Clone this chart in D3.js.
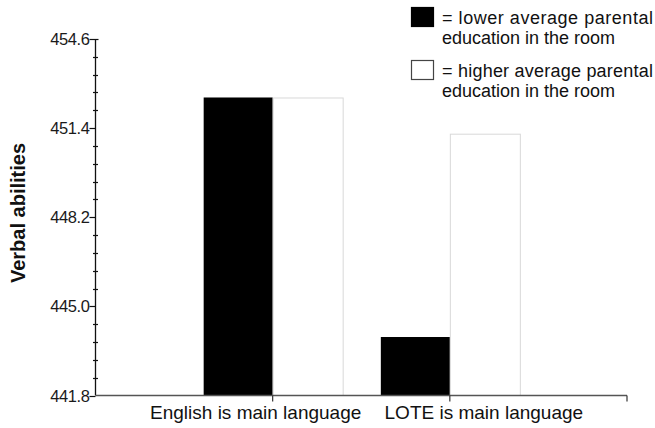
<!DOCTYPE html>
<html>
<head>
<meta charset="utf-8">
<script src="https://cdn.jsdelivr.net/npm/d3@7"></script>
<style>
  html, body { margin: 0; padding: 0; background: #fff; }
  svg { display: block; font-family: "Liberation Sans", Arial, sans-serif; }
</style>
</head>
<body>
<svg id="chart" width="655" height="428"></svg>
<script>
// ---- data ----
const categories = ["English is main language", "LOTE is main language"];
const seriesNames = ["= lower average parental", "= higher average parental"];
const seriesNames2 = ["education in the room", "education in the room"];
const lowerEdu = [452.5, 443.9];
const higherEdu = [452.5, 451.2];
const yTicks = [441.8, 445.0, 448.2, 451.4, 454.6];
const yTitle = "Verbal abilities";

const svg = d3.select("#chart");
const axisX = 95.5, axisBottom = 395.5, axisTop = 39;

const y = d3.scaleLinear().domain([441.8, 454.6]).range([axisBottom, axisTop]);
const x = d3.scaleLinear().domain([0, categories.length + 1]).range([axisX, 627]);
const barW = 70;

// bars
const g = svg.append("g");
categories.forEach((c, i) => {
  const cx = x(i + 1);
  g.append("rect")
    .attr("x", cx - barW + 1).attr("width", barW - 1)
    .attr("y", y(lowerEdu[i])).attr("height", axisBottom - y(lowerEdu[i]))
    .attr("fill", "#000");
  g.append("rect")
    .attr("x", cx + 0.5).attr("width", barW)
    .attr("y", y(higherEdu[i]) + 0.5).attr("height", axisBottom - y(higherEdu[i]) - 0.5)
    .attr("fill", "#fff").attr("stroke", "#d8d8d8").attr("stroke-width", 1);
});

// y axis
const yAxis = svg.append("g").attr("transform", `translate(${axisX},0)`);
yAxis.append("line").attr("x1", 0).attr("x2", 0).attr("y1", y(454.6)).attr("y2", y(441.8))
  .attr("stroke", "#111").attr("stroke-width", 1.3);
// minor ticks
const minor = d3.range(0, 21).map(k => 441.8 + k * 0.64).filter((v, k) => k % 5 !== 0);
yAxis.selectAll(".minor").data(minor).join("line")
  .attr("x1", -2.5).attr("x2", 2.5)
  .attr("y1", d => Math.round(y(d)) + 0.5).attr("y2", d => Math.round(y(d)) + 0.5)
  .attr("stroke", "#111").attr("stroke-width", 1.2);
yAxis.selectAll(".major").data(yTicks).join("line")
  .attr("x1", -6).attr("x2", d => d === 454.6 ? 3 : 0)
  .attr("y1", d => Math.round(y(d)) + 0.5).attr("y2", d => Math.round(y(d)) + 0.5)
  .attr("stroke", "#111").attr("stroke-width", 1.2);
yAxis.selectAll(".lab").data(yTicks).join("text")
  .attr("x", -6).attr("y", d => y(d) + 6)
  .attr("text-anchor", "end").attr("font-size", 16.5).attr("fill", "#1a1a1a")
  .attr("letter-spacing", -0.4)
  .text(d => d.toFixed(1));

// x axis
const xAxis = svg.append("g");
xAxis.append("line").attr("x1", axisX).attr("x2", x(categories.length + 1))
  .attr("y1", axisBottom).attr("y2", axisBottom)
  .attr("stroke", "#555").attr("stroke-width", 1.3);
xAxis.selectAll(".xt").data(d3.range(1, categories.length + 2)).join("line")
  .attr("x1", d => x(d)).attr("x2", d => x(d))
  .attr("y1", axisBottom).attr("y2", axisBottom + 6)
  .attr("stroke", "#333").attr("stroke-width", 1.2);
const labelOffsets = [-17, 34];
xAxis.selectAll(".xl").data(categories).join("text")
  .attr("x", (d, i) => x(i + 1) + labelOffsets[i]).attr("y", 419)
  .attr("text-anchor", "middle").attr("font-size", 19).attr("fill", "#111")
  .text(d => d);

// y title
svg.append("text")
  .attr("transform", "translate(25,213) rotate(-90)")
  .attr("text-anchor", "middle").attr("font-size", 20).attr("font-weight", "bold")
  .attr("fill", "#111")
  .text(yTitle);

// legend
const legend = svg.append("g");
const fills = ["#000", "#fff"];
const legTop = [7, 60];
seriesNames.forEach((s, i) => {
  legend.append("rect")
    .attr("x", 411.5).attr("y", legTop[i] + 0.5).attr("width", 22).attr("height", 19)
    .attr("fill", fills[i]).attr("stroke", i === 0 ? "#000" : "#444").attr("stroke-width", 1.2);
  legend.append("text")
    .attr("x", 442).attr("y", legTop[i] + 17)
    .attr("font-size", 18).attr("fill", "#111")
    .attr("textLength", 211).attr("lengthAdjust", "spacing")
    .text(s);
  legend.append("text")
    .attr("x", 442).attr("y", legTop[i] + 37)
    .attr("font-size", 18).attr("fill", "#111")
    .text(seriesNames2[i]);
});
</script>
</body>
</html>
